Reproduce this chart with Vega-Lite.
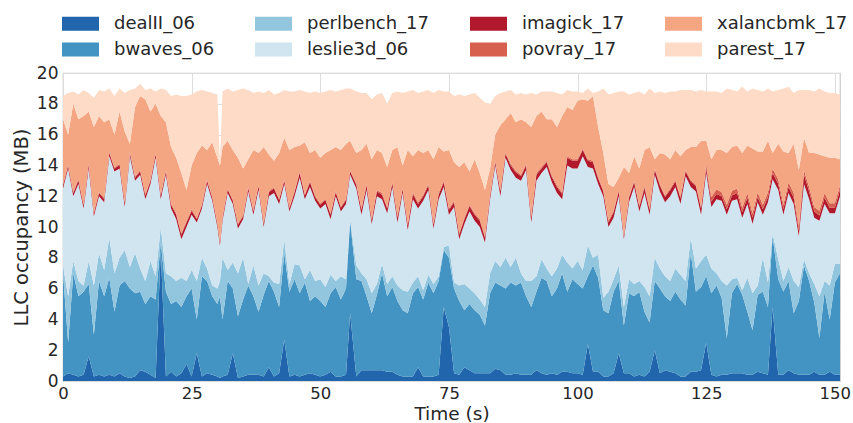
{
"$schema": "https://vega.github.io/schema/vega-lite/v6.json",
"width": 777, "height": 308,
"autosize": {"type": "none"},
"padding": {"left": 63, "top": 73, "right": 13, "bottom": 42},
"background": "white",
"config": {
 "font": "DejaVu Sans",
 "view": {"stroke": "#cccccc", "strokeWidth": 1.25},
 "axis": {"domain": false, "ticks": false, "grid": true, "gridColor": "#dddddd", "gridWidth": 1, "labelFontSize": 17, "labelColor": "#262626", "titleFontSize": 19.5, "titleFontWeight": "normal", "titleColor": "#262626"}
},
"data": {"values": [
{"t":0,"dealII_06":0.3,"bwaves_06":6.7,"perlbench_17":0.5,"leslie3d_06":5.0,"imagick_17":0.2,"povray_17":0.08,"xalancbmk_17":4.22,"parest_17":1.5},
{"t":1,"dealII_06":0.5,"bwaves_06":2.0,"perlbench_17":3.0,"leslie3d_06":8.3,"imagick_17":0.18,"povray_17":0.07,"xalancbmk_17":1.95,"parest_17":2.7},
{"t":2,"dealII_06":0.4,"bwaves_06":6.6,"perlbench_17":0.8,"leslie3d_06":4.2,"imagick_17":0.2,"povray_17":0.08,"xalancbmk_17":5.72,"parest_17":0.8},
{"t":3,"dealII_06":0.3,"bwaves_06":5.2,"perlbench_17":1.0,"leslie3d_06":6.3,"imagick_17":0.22,"povray_17":0.08,"xalancbmk_17":3.9,"parest_17":1.6},
{"t":4,"dealII_06":0.4,"bwaves_06":5.4,"perlbench_17":0.4,"leslie3d_06":5.0,"imagick_17":0.2,"povray_17":0.08,"xalancbmk_17":5.72,"parest_17":1.7},
{"t":5,"dealII_06":1.6,"bwaves_06":4.7,"perlbench_17":1.5,"leslie3d_06":6.0,"imagick_17":0.25,"povray_17":0.08,"xalancbmk_17":3.37,"parest_17":1.2},
{"t":6,"dealII_06":0.3,"bwaves_06":2.7,"perlbench_17":3.2,"leslie3d_06":4.5,"imagick_17":0.2,"povray_17":0.08,"xalancbmk_17":5.52,"parest_17":1.9},
{"t":7,"dealII_06":0.4,"bwaves_06":6.1,"perlbench_17":1.8,"leslie3d_06":3.7,"imagick_17":0.2,"povray_17":0.07,"xalancbmk_17":4.93,"parest_17":1.7},
{"t":8,"dealII_06":0.3,"bwaves_06":5.2,"perlbench_17":1.7,"leslie3d_06":4.4,"imagick_17":0.22,"povray_17":0.08,"xalancbmk_17":4.9,"parest_17":2.0},
{"t":9,"dealII_06":0.4,"bwaves_06":6.3,"perlbench_17":2.6,"leslie3d_06":5.3,"imagick_17":0.2,"povray_17":0.08,"xalancbmk_17":2.12,"parest_17":2.0},
{"t":10,"dealII_06":0.3,"bwaves_06":4.2,"perlbench_17":2.5,"leslie3d_06":6.6,"imagick_17":0.2,"povray_17":0.07,"xalancbmk_17":2.13,"parest_17":2.5},
{"t":11,"dealII_06":0.5,"bwaves_06":5.7,"perlbench_17":1.8,"leslie3d_06":5.8,"imagick_17":0.22,"povray_17":0.08,"xalancbmk_17":3.4,"parest_17":1.5},
{"t":12,"dealII_06":0.3,"bwaves_06":6.2,"perlbench_17":2.0,"leslie3d_06":2.8,"imagick_17":0.25,"povray_17":0.08,"xalancbmk_17":4.57,"parest_17":2.5},
{"t":13,"dealII_06":0.2,"bwaves_06":5.8,"perlbench_17":1.4,"leslie3d_06":7.2,"imagick_17":0.2,"povray_17":0.07,"xalancbmk_17":0.53,"parest_17":3.5},
{"t":14,"dealII_06":0.3,"bwaves_06":5.4,"perlbench_17":2.6,"leslie3d_06":4.7,"imagick_17":0.2,"povray_17":0.08,"xalancbmk_17":4.52,"parest_17":1.2},
{"t":15,"dealII_06":0.7,"bwaves_06":5.1,"perlbench_17":1.5,"leslie3d_06":6.1,"imagick_17":0.22,"povray_17":0.08,"xalancbmk_17":4.8,"parest_17":0.8},
{"t":16,"dealII_06":0.6,"bwaves_06":4.4,"perlbench_17":1.5,"leslie3d_06":5.3,"imagick_17":0.25,"povray_17":0.08,"xalancbmk_17":6.17,"parest_17":0.6},
{"t":17,"dealII_06":0.4,"bwaves_06":5.1,"perlbench_17":2.3,"leslie3d_06":5.0,"imagick_17":0.2,"povray_17":0.08,"xalancbmk_17":4.42,"parest_17":1.5},
{"t":18,"dealII_06":0.2,"bwaves_06":5.1,"perlbench_17":1.5,"leslie3d_06":7.7,"imagick_17":0.2,"povray_17":0.08,"xalancbmk_17":3.22,"parest_17":0.8},
{"t":19,"dealII_06":8.5,"bwaves_06":0.5,"perlbench_17":1.0,"leslie3d_06":1.8,"imagick_17":0.25,"povray_17":0.08,"xalancbmk_17":5.07,"parest_17":1.8},
{"t":20,"dealII_06":0.3,"bwaves_06":5.5,"perlbench_17":1.2,"leslie3d_06":6.4,"imagick_17":0.2,"povray_17":0.08,"xalancbmk_17":3.12,"parest_17":2.1},
{"t":21,"dealII_06":0.6,"bwaves_06":4.4,"perlbench_17":1.8,"leslie3d_06":4.4,"imagick_17":0.25,"povray_17":0.08,"xalancbmk_17":3.67,"parest_17":3.3},
{"t":22,"dealII_06":0.3,"bwaves_06":4.9,"perlbench_17":1.3,"leslie3d_06":4.0,"imagick_17":0.3,"povray_17":0.1,"xalancbmk_17":3.6,"parest_17":4.1},
{"t":23,"dealII_06":0.5,"bwaves_06":4.3,"perlbench_17":1.9,"leslie3d_06":2.5,"imagick_17":0.3,"povray_17":0.1,"xalancbmk_17":3.9,"parest_17":5.0},
{"t":24,"dealII_06":1.1,"bwaves_06":4.4,"perlbench_17":1.0,"leslie3d_06":3.5,"imagick_17":0.3,"povray_17":0.1,"xalancbmk_17":2.0,"parest_17":6.1},
{"t":25,"dealII_06":0.3,"bwaves_06":5.7,"perlbench_17":1.2,"leslie3d_06":3.6,"imagick_17":0.25,"povray_17":0.08,"xalancbmk_17":2.87,"parest_17":4.6},
{"t":26,"dealII_06":1.8,"bwaves_06":2.2,"perlbench_17":2.5,"leslie3d_06":3.8,"imagick_17":0.2,"povray_17":0.08,"xalancbmk_17":4.22,"parest_17":4.0},
{"t":27,"dealII_06":0.3,"bwaves_06":6.5,"perlbench_17":1.2,"leslie3d_06":3.2,"imagick_17":0.2,"povray_17":0.08,"xalancbmk_17":3.82,"parest_17":3.6},
{"t":28,"dealII_06":0.5,"bwaves_06":6.0,"perlbench_17":0.8,"leslie3d_06":5.5,"imagick_17":0.2,"povray_17":0.08,"xalancbmk_17":1.92,"parest_17":3.8},
{"t":29,"dealII_06":0.4,"bwaves_06":5.1,"perlbench_17":0.7,"leslie3d_06":5.5,"imagick_17":0.2,"povray_17":0.08,"xalancbmk_17":3.52,"parest_17":3.2},
{"t":30,"dealII_06":0.3,"bwaves_06":4.7,"perlbench_17":1.0,"leslie3d_06":4.0,"imagick_17":0.2,"povray_17":0.08,"xalancbmk_17":4.22,"parest_17":4.1},
{"t":30.5,"dealII_06":0.2,"bwaves_06":5.3,"perlbench_17":1.0,"leslie3d_06":2.3,"imagick_17":0.2,"povray_17":0.08,"xalancbmk_17":4.92,"parest_17":0.1},
{"t":31,"dealII_06":0.3,"bwaves_06":3.7,"perlbench_17":4.0,"leslie3d_06":2.4,"imagick_17":0.2,"povray_17":0.08,"xalancbmk_17":4.52,"parest_17":3.6},
{"t":32,"dealII_06":0.4,"bwaves_06":6.1,"perlbench_17":0.7,"leslie3d_06":5.0,"imagick_17":0.22,"povray_17":0.08,"xalancbmk_17":3.1,"parest_17":3.4},
{"t":33,"dealII_06":1.8,"bwaves_06":4.2,"perlbench_17":1.7,"leslie3d_06":3.8,"imagick_17":0.2,"povray_17":0.08,"xalancbmk_17":3.22,"parest_17":3.8},
{"t":34,"dealII_06":0.2,"bwaves_06":4.0,"perlbench_17":2.8,"leslie3d_06":2.9,"imagick_17":0.25,"povray_17":0.08,"xalancbmk_17":4.27,"parest_17":4.4},
{"t":35,"dealII_06":0.3,"bwaves_06":5.0,"perlbench_17":2.7,"leslie3d_06":2.5,"imagick_17":0.2,"povray_17":0.08,"xalancbmk_17":3.02,"parest_17":5.2},
{"t":36,"dealII_06":0.4,"bwaves_06":5.8,"perlbench_17":0.1,"leslie3d_06":6.0,"imagick_17":0.22,"povray_17":0.08,"xalancbmk_17":1.8,"parest_17":4.5},
{"t":37,"dealII_06":0.4,"bwaves_06":5.1,"perlbench_17":2.0,"leslie3d_06":3.3,"imagick_17":0.2,"povray_17":0.08,"xalancbmk_17":3.92,"parest_17":3.7},
{"t":38,"dealII_06":0.4,"bwaves_06":4.1,"perlbench_17":1.7,"leslie3d_06":6.2,"imagick_17":0.25,"povray_17":0.08,"xalancbmk_17":2.07,"parest_17":4.0},
{"t":39,"dealII_06":0.3,"bwaves_06":5.3,"perlbench_17":1.4,"leslie3d_06":3.0,"imagick_17":0.2,"povray_17":0.08,"xalancbmk_17":4.92,"parest_17":3.5},
{"t":40,"dealII_06":0.9,"bwaves_06":5.6,"perlbench_17":0.3,"leslie3d_06":5.2,"imagick_17":0.25,"povray_17":0.08,"xalancbmk_17":2.37,"parest_17":4.2},
{"t":41,"dealII_06":0.3,"bwaves_06":5.5,"perlbench_17":0.6,"leslie3d_06":5.8,"imagick_17":0.3,"povray_17":0.08,"xalancbmk_17":1.72,"parest_17":4.3},
{"t":42,"dealII_06":0.5,"bwaves_06":4.3,"perlbench_17":1.5,"leslie3d_06":5.2,"imagick_17":0.25,"povray_17":0.08,"xalancbmk_17":2.97,"parest_17":3.9},
{"t":43,"dealII_06":2.7,"bwaves_06":5.6,"perlbench_17":0.9,"leslie3d_06":3.6,"imagick_17":0.2,"povray_17":0.08,"xalancbmk_17":2.72,"parest_17":3.1},
{"t":44,"dealII_06":0.3,"bwaves_06":5.5,"perlbench_17":0.5,"leslie3d_06":4.7,"imagick_17":0.2,"povray_17":0.08,"xalancbmk_17":3.72,"parest_17":3.8},
{"t":45,"dealII_06":0.4,"bwaves_06":6.2,"perlbench_17":1.0,"leslie3d_06":4.4,"imagick_17":0.25,"povray_17":0.08,"xalancbmk_17":2.87,"parest_17":3.6},
{"t":46,"dealII_06":0.3,"bwaves_06":5.4,"perlbench_17":1.8,"leslie3d_06":5.7,"imagick_17":0.3,"povray_17":0.1,"xalancbmk_17":1.7,"parest_17":3.6},
{"t":47,"dealII_06":0.4,"bwaves_06":6.0,"perlbench_17":0.2,"leslie3d_06":5.2,"imagick_17":0.25,"povray_17":0.08,"xalancbmk_17":3.37,"parest_17":3.3},
{"t":48,"dealII_06":0.5,"bwaves_06":4.7,"perlbench_17":2.0,"leslie3d_06":5.4,"imagick_17":0.3,"povray_17":0.1,"xalancbmk_17":1.8,"parest_17":3.9},
{"t":49,"dealII_06":0.4,"bwaves_06":5.1,"perlbench_17":1.0,"leslie3d_06":5.2,"imagick_17":0.25,"povray_17":0.08,"xalancbmk_17":2.97,"parest_17":3.8},
{"t":50,"dealII_06":0.3,"bwaves_06":4.9,"perlbench_17":1.4,"leslie3d_06":4.6,"imagick_17":0.25,"povray_17":0.08,"xalancbmk_17":2.97,"parest_17":4.2},
{"t":51,"dealII_06":0.4,"bwaves_06":4.4,"perlbench_17":1.3,"leslie3d_06":5.4,"imagick_17":0.25,"povray_17":0.08,"xalancbmk_17":2.97,"parest_17":4.0},
{"t":52,"dealII_06":0.6,"bwaves_06":5.1,"perlbench_17":1.2,"leslie3d_06":3.6,"imagick_17":0.3,"povray_17":0.08,"xalancbmk_17":4.12,"parest_17":3.9},
{"t":53,"dealII_06":0.3,"bwaves_06":5.8,"perlbench_17":0.4,"leslie3d_06":5.5,"imagick_17":0.25,"povray_17":0.08,"xalancbmk_17":2.87,"parest_17":3.6},
{"t":54,"dealII_06":0.3,"bwaves_06":5.0,"perlbench_17":1.5,"leslie3d_06":4.2,"imagick_17":0.25,"povray_17":0.08,"xalancbmk_17":3.67,"parest_17":3.9},
{"t":55,"dealII_06":0.4,"bwaves_06":5.6,"perlbench_17":0.6,"leslie3d_06":4.9,"imagick_17":0.25,"povray_17":0.08,"xalancbmk_17":3.57,"parest_17":3.6},
{"t":55.8,"dealII_06":4.4,"bwaves_06":6.0,"perlbench_17":0.1,"leslie3d_06":2.9,"imagick_17":0.2,"povray_17":0.08,"xalancbmk_17":1.92,"parest_17":3.4},
{"t":57,"dealII_06":0.3,"bwaves_06":6.3,"perlbench_17":0.9,"leslie3d_06":5.0,"imagick_17":0.25,"povray_17":0.08,"xalancbmk_17":1.97,"parest_17":4.0},
{"t":58,"dealII_06":0.7,"bwaves_06":5.8,"perlbench_17":0.5,"leslie3d_06":3.8,"imagick_17":0.3,"povray_17":0.1,"xalancbmk_17":3.8,"parest_17":3.7},
{"t":59,"dealII_06":0.7,"bwaves_06":4.8,"perlbench_17":1.1,"leslie3d_06":5.8,"imagick_17":0.3,"povray_17":0.1,"xalancbmk_17":2.6,"parest_17":3.3},
{"t":60,"dealII_06":0.7,"bwaves_06":3.7,"perlbench_17":1.3,"leslie3d_06":4.5,"imagick_17":0.25,"povray_17":0.08,"xalancbmk_17":3.87,"parest_17":3.9},
{"t":61,"dealII_06":0.7,"bwaves_06":4.9,"perlbench_17":0.7,"leslie3d_06":5.7,"imagick_17":0.3,"povray_17":0.1,"xalancbmk_17":2.6,"parest_17":3.6},
{"t":62,"dealII_06":0.7,"bwaves_06":6.3,"perlbench_17":0.6,"leslie3d_06":4.2,"imagick_17":0.3,"povray_17":0.1,"xalancbmk_17":2.6,"parest_17":3.9},
{"t":63,"dealII_06":0.6,"bwaves_06":4.9,"perlbench_17":0.8,"leslie3d_06":4.6,"imagick_17":0.3,"povray_17":0.1,"xalancbmk_17":2.6,"parest_17":4.1},
{"t":64,"dealII_06":0.6,"bwaves_06":5.5,"perlbench_17":0.7,"leslie3d_06":5.8,"imagick_17":0.25,"povray_17":0.08,"xalancbmk_17":2.07,"parest_17":3.7},
{"t":65,"dealII_06":0.4,"bwaves_06":4.8,"perlbench_17":1.0,"leslie3d_06":4.1,"imagick_17":0.3,"povray_17":0.1,"xalancbmk_17":4.5,"parest_17":3.6},
{"t":66,"dealII_06":0.3,"bwaves_06":4.3,"perlbench_17":1.3,"leslie3d_06":6.3,"imagick_17":0.25,"povray_17":0.08,"xalancbmk_17":1.47,"parest_17":4.7},
{"t":67,"dealII_06":0.3,"bwaves_06":4.1,"perlbench_17":1.4,"leslie3d_06":4.0,"imagick_17":0.3,"povray_17":0.1,"xalancbmk_17":4.8,"parest_17":3.8},
{"t":68,"dealII_06":0.3,"bwaves_06":5.4,"perlbench_17":0.7,"leslie3d_06":5.4,"imagick_17":0.35,"povray_17":0.1,"xalancbmk_17":2.35,"parest_17":4.3},
{"t":69,"dealII_06":0.9,"bwaves_06":5.2,"perlbench_17":0.7,"leslie3d_06":4.4,"imagick_17":0.3,"povray_17":0.1,"xalancbmk_17":3.4,"parest_17":3.7},
{"t":70,"dealII_06":0.3,"bwaves_06":5.0,"perlbench_17":0.6,"leslie3d_06":5.8,"imagick_17":0.3,"povray_17":0.1,"xalancbmk_17":2.7,"parest_17":4.0},
{"t":71,"dealII_06":0.3,"bwaves_06":6.1,"perlbench_17":0.5,"leslie3d_06":5.5,"imagick_17":0.3,"povray_17":0.1,"xalancbmk_17":2.2,"parest_17":3.9},
{"t":72,"dealII_06":0.3,"bwaves_06":5.4,"perlbench_17":0.6,"leslie3d_06":3.6,"imagick_17":0.25,"povray_17":0.08,"xalancbmk_17":4.17,"parest_17":4.3},
{"t":73,"dealII_06":0.4,"bwaves_06":6.1,"perlbench_17":0.3,"leslie3d_06":5.0,"imagick_17":0.3,"povray_17":0.1,"xalancbmk_17":3.0,"parest_17":3.7},
{"t":74,"dealII_06":4.8,"bwaves_06":3.7,"perlbench_17":0.2,"leslie3d_06":3.9,"imagick_17":0.3,"povray_17":0.1,"xalancbmk_17":1.9,"parest_17":3.9},
{"t":75,"dealII_06":3.5,"bwaves_06":4.5,"perlbench_17":0.8,"leslie3d_06":2.0,"imagick_17":0.3,"povray_17":0.1,"xalancbmk_17":3.8,"parest_17":3.8},
{"t":76,"dealII_06":0.5,"bwaves_06":5.5,"perlbench_17":0.4,"leslie3d_06":4.9,"imagick_17":0.3,"povray_17":0.1,"xalancbmk_17":2.5,"parest_17":4.3},
{"t":77,"dealII_06":0.4,"bwaves_06":4.8,"perlbench_17":1.0,"leslie3d_06":3.0,"imagick_17":0.3,"povray_17":0.1,"xalancbmk_17":4.3,"parest_17":4.7},
{"t":78,"dealII_06":0.9,"bwaves_06":3.7,"perlbench_17":1.7,"leslie3d_06":3.9,"imagick_17":0.3,"povray_17":0.1,"xalancbmk_17":3.6,"parest_17":4.3},
{"t":79,"dealII_06":0.7,"bwaves_06":4.3,"perlbench_17":1.0,"leslie3d_06":5.0,"imagick_17":0.35,"povray_17":0.1,"xalancbmk_17":2.15,"parest_17":5.0},
{"t":80,"dealII_06":0.5,"bwaves_06":4.1,"perlbench_17":1.1,"leslie3d_06":4.7,"imagick_17":0.4,"povray_17":0.1,"xalancbmk_17":3.5,"parest_17":4.3},
{"t":81,"dealII_06":0.5,"bwaves_06":3.8,"perlbench_17":1.0,"leslie3d_06":4.7,"imagick_17":0.4,"povray_17":0.1,"xalancbmk_17":3.0,"parest_17":4.9},
{"t":82,"dealII_06":0.5,"bwaves_06":3.1,"perlbench_17":1.2,"leslie3d_06":4.2,"imagick_17":0.3,"povray_17":0.1,"xalancbmk_17":3.0,"parest_17":5.7},
{"t":83,"dealII_06":0.5,"bwaves_06":5.2,"perlbench_17":1.3,"leslie3d_06":4.8,"imagick_17":0.25,"povray_17":0.08,"xalancbmk_17":1.67,"parest_17":4.2},
{"t":84,"dealII_06":0.8,"bwaves_06":5.6,"perlbench_17":1.4,"leslie3d_06":6.2,"imagick_17":0.2,"povray_17":0.08,"xalancbmk_17":1.72,"parest_17":2.5},
{"t":85,"dealII_06":0.7,"bwaves_06":5.5,"perlbench_17":1.2,"leslie3d_06":4.6,"imagick_17":0.3,"povray_17":0.1,"xalancbmk_17":4.2,"parest_17":2.1},
{"t":86,"dealII_06":0.4,"bwaves_06":5.6,"perlbench_17":2.0,"leslie3d_06":6.5,"imagick_17":0.25,"povray_17":0.08,"xalancbmk_17":2.17,"parest_17":1.8},
{"t":87,"dealII_06":0.4,"bwaves_06":6.0,"perlbench_17":1.0,"leslie3d_06":6.3,"imagick_17":0.3,"povray_17":0.1,"xalancbmk_17":3.3,"parest_17":1.5},
{"t":88,"dealII_06":0.5,"bwaves_06":5.7,"perlbench_17":1.8,"leslie3d_06":5.2,"imagick_17":0.35,"povray_17":0.1,"xalancbmk_17":3.15,"parest_17":1.8},
{"t":89,"dealII_06":0.4,"bwaves_06":6.0,"perlbench_17":0.6,"leslie3d_06":6.0,"imagick_17":0.3,"povray_17":0.1,"xalancbmk_17":3.6,"parest_17":1.7},
{"t":90,"dealII_06":0.4,"bwaves_06":5.1,"perlbench_17":1.0,"leslie3d_06":7.2,"imagick_17":0.3,"povray_17":0.1,"xalancbmk_17":2.7,"parest_17":1.8},
{"t":91,"dealII_06":0.4,"bwaves_06":4.4,"perlbench_17":1.7,"leslie3d_06":3.8,"imagick_17":0.3,"povray_17":0.1,"xalancbmk_17":5.8,"parest_17":2.2},
{"t":92,"dealII_06":0.7,"bwaves_06":5.1,"perlbench_17":1.0,"leslie3d_06":6.2,"imagick_17":0.4,"povray_17":0.1,"xalancbmk_17":3.7,"parest_17":1.4},
{"t":93,"dealII_06":0.5,"bwaves_06":6.2,"perlbench_17":1.2,"leslie3d_06":5.6,"imagick_17":0.3,"povray_17":0.1,"xalancbmk_17":3.6,"parest_17":1.3},
{"t":94,"dealII_06":0.4,"bwaves_06":6.1,"perlbench_17":0.8,"leslie3d_06":6.6,"imagick_17":0.3,"povray_17":0.1,"xalancbmk_17":2.7,"parest_17":1.8},
{"t":95,"dealII_06":0.5,"bwaves_06":5.0,"perlbench_17":1.3,"leslie3d_06":6.1,"imagick_17":0.35,"povray_17":0.1,"xalancbmk_17":3.65,"parest_17":1.8},
{"t":96,"dealII_06":0.4,"bwaves_06":5.6,"perlbench_17":1.3,"leslie3d_06":4.9,"imagick_17":0.4,"povray_17":0.1,"xalancbmk_17":3.8,"parest_17":2.2},
{"t":97,"dealII_06":0.6,"bwaves_06":6.4,"perlbench_17":1.2,"leslie3d_06":3.6,"imagick_17":0.35,"povray_17":0.1,"xalancbmk_17":4.95,"parest_17":1.4},
{"t":98,"dealII_06":0.6,"bwaves_06":5.2,"perlbench_17":1.9,"leslie3d_06":6.3,"imagick_17":0.5,"povray_17":0.1,"xalancbmk_17":3.2,"parest_17":1.1},
{"t":99,"dealII_06":0.5,"bwaves_06":6.1,"perlbench_17":0.7,"leslie3d_06":6.5,"imagick_17":0.5,"povray_17":0.1,"xalancbmk_17":3.2,"parest_17":1.2},
{"t":100,"dealII_06":0.5,"bwaves_06":5.8,"perlbench_17":1.5,"leslie3d_06":6.0,"imagick_17":0.5,"povray_17":0.1,"xalancbmk_17":3.8,"parest_17":0.6},
{"t":101,"dealII_06":0.4,"bwaves_06":5.6,"perlbench_17":1.2,"leslie3d_06":7.4,"imagick_17":0.4,"povray_17":0.1,"xalancbmk_17":3.2,"parest_17":0.4},
{"t":102,"dealII_06":2.4,"bwaves_06":4.4,"perlbench_17":2.0,"leslie3d_06":5.1,"imagick_17":0.4,"povray_17":0.1,"xalancbmk_17":3.8,"parest_17":0.8},
{"t":103,"dealII_06":0.6,"bwaves_06":6.9,"perlbench_17":0.5,"leslie3d_06":5.8,"imagick_17":0.4,"povray_17":0.1,"xalancbmk_17":4.2,"parest_17":0.2},
{"t":104,"dealII_06":0.6,"bwaves_06":6.1,"perlbench_17":1.5,"leslie3d_06":4.6,"imagick_17":0.35,"povray_17":0.1,"xalancbmk_17":3.25,"parest_17":2.3},
{"t":105,"dealII_06":0.3,"bwaves_06":4.3,"perlbench_17":0.8,"leslie3d_06":6.6,"imagick_17":0.3,"povray_17":0.1,"xalancbmk_17":2.4,"parest_17":4.2},
{"t":106,"dealII_06":0.3,"bwaves_06":4.1,"perlbench_17":1.4,"leslie3d_06":4.2,"imagick_17":0.3,"povray_17":0.1,"xalancbmk_17":2.4,"parest_17":5.8},
{"t":107,"dealII_06":0.5,"bwaves_06":5.3,"perlbench_17":0.8,"leslie3d_06":4.0,"imagick_17":0.35,"povray_17":0.1,"xalancbmk_17":1.55,"parest_17":6.1},
{"t":108,"dealII_06":1.8,"bwaves_06":4.7,"perlbench_17":1.0,"leslie3d_06":4.5,"imagick_17":0.3,"povray_17":0.1,"xalancbmk_17":0.8,"parest_17":5.6},
{"t":109,"dealII_06":0.5,"bwaves_06":3.1,"perlbench_17":1.2,"leslie3d_06":4.4,"imagick_17":0.2,"povray_17":0.08,"xalancbmk_17":4.42,"parest_17":4.9},
{"t":110,"dealII_06":0.5,"bwaves_06":5.2,"perlbench_17":0.9,"leslie3d_06":5.0,"imagick_17":0.3,"povray_17":0.1,"xalancbmk_17":1.5,"parest_17":5.1},
{"t":111,"dealII_06":0.3,"bwaves_06":5.2,"perlbench_17":0.8,"leslie3d_06":6.3,"imagick_17":0.3,"povray_17":0.1,"xalancbmk_17":1.6,"parest_17":4.1},
{"t":112,"dealII_06":0.4,"bwaves_06":5.4,"perlbench_17":0.7,"leslie3d_06":4.5,"imagick_17":0.3,"povray_17":0.1,"xalancbmk_17":2.4,"parest_17":5.0},
{"t":113,"dealII_06":0.3,"bwaves_06":4.2,"perlbench_17":1.6,"leslie3d_06":6.1,"imagick_17":0.35,"povray_17":0.1,"xalancbmk_17":2.35,"parest_17":3.6},
{"t":114,"dealII_06":0.6,"bwaves_06":3.2,"perlbench_17":1.7,"leslie3d_06":5.3,"imagick_17":0.3,"povray_17":0.1,"xalancbmk_17":4.0,"parest_17":3.8},
{"t":115,"dealII_06":2.0,"bwaves_06":4.5,"perlbench_17":1.5,"leslie3d_06":5.4,"imagick_17":0.3,"povray_17":0.1,"xalancbmk_17":0.6,"parest_17":4.3},
{"t":116,"dealII_06":0.5,"bwaves_06":5.5,"perlbench_17":1.3,"leslie3d_06":5.0,"imagick_17":0.4,"povray_17":0.1,"xalancbmk_17":2.0,"parest_17":4.0},
{"t":117,"dealII_06":0.7,"bwaves_06":4.8,"perlbench_17":1.3,"leslie3d_06":4.8,"imagick_17":0.35,"povray_17":0.1,"xalancbmk_17":2.65,"parest_17":4.0},
{"t":118,"dealII_06":0.6,"bwaves_06":4.6,"perlbench_17":1.3,"leslie3d_06":5.5,"imagick_17":0.4,"povray_17":0.1,"xalancbmk_17":1.9,"parest_17":4.4},
{"t":119,"dealII_06":0.5,"bwaves_06":5.3,"perlbench_17":1.5,"leslie3d_06":5.3,"imagick_17":0.35,"povray_17":0.1,"xalancbmk_17":1.95,"parest_17":3.8},
{"t":120,"dealII_06":0.3,"bwaves_06":5.0,"perlbench_17":1.6,"leslie3d_06":4.6,"imagick_17":0.35,"povray_17":0.1,"xalancbmk_17":2.65,"parest_17":4.3},
{"t":121,"dealII_06":0.3,"bwaves_06":4.6,"perlbench_17":1.6,"leslie3d_06":6.8,"imagick_17":0.3,"povray_17":0.1,"xalancbmk_17":1.3,"parest_17":3.9},
{"t":122,"dealII_06":0.6,"bwaves_06":7.7,"perlbench_17":1.0,"leslie3d_06":3.3,"imagick_17":0.35,"povray_17":0.1,"xalancbmk_17":2.15,"parest_17":3.7},
{"t":123,"dealII_06":0.6,"bwaves_06":5.2,"perlbench_17":1.5,"leslie3d_06":5.0,"imagick_17":0.35,"povray_17":0.1,"xalancbmk_17":2.45,"parest_17":3.6},
{"t":124,"dealII_06":0.7,"bwaves_06":5.4,"perlbench_17":1.7,"leslie3d_06":3.0,"imagick_17":0.4,"povray_17":0.1,"xalancbmk_17":4.3,"parest_17":3.3},
{"t":125,"dealII_06":2.5,"bwaves_06":4.3,"perlbench_17":1.4,"leslie3d_06":5.3,"imagick_17":0.3,"povray_17":0.25,"xalancbmk_17":1.55,"parest_17":3.2},
{"t":126,"dealII_06":0.4,"bwaves_06":5.3,"perlbench_17":1.6,"leslie3d_06":4.0,"imagick_17":0.35,"povray_17":0.3,"xalancbmk_17":2.45,"parest_17":4.4},
{"t":127,"dealII_06":0.3,"bwaves_06":5.9,"perlbench_17":0.8,"leslie3d_06":4.8,"imagick_17":0.35,"povray_17":0.3,"xalancbmk_17":2.55,"parest_17":3.8},
{"t":128,"dealII_06":0.4,"bwaves_06":5.0,"perlbench_17":1.1,"leslie3d_06":5.2,"imagick_17":0.3,"povray_17":0.25,"xalancbmk_17":2.75,"parest_17":3.7},
{"t":129,"dealII_06":0.4,"bwaves_06":2.4,"perlbench_17":3.4,"leslie3d_06":4.6,"imagick_17":0.35,"povray_17":0.3,"xalancbmk_17":3.35,"parest_17":4.2},
{"t":130,"dealII_06":0.5,"bwaves_06":5.2,"perlbench_17":0.9,"leslie3d_06":5.1,"imagick_17":0.35,"povray_17":0.3,"xalancbmk_17":2.85,"parest_17":3.7},
{"t":131,"dealII_06":0.5,"bwaves_06":5.8,"perlbench_17":0.4,"leslie3d_06":5.1,"imagick_17":0.4,"povray_17":0.3,"xalancbmk_17":2.8,"parest_17":3.5},
{"t":132,"dealII_06":0.5,"bwaves_06":5.1,"perlbench_17":0.3,"leslie3d_06":4.7,"imagick_17":0.35,"povray_17":0.3,"xalancbmk_17":3.55,"parest_17":4.3},
{"t":133,"dealII_06":0.4,"bwaves_06":4.1,"perlbench_17":2.2,"leslie3d_06":4.8,"imagick_17":0.4,"povray_17":0.3,"xalancbmk_17":3.1,"parest_17":3.5},
{"t":134,"dealII_06":0.4,"bwaves_06":2.9,"perlbench_17":2.4,"leslie3d_06":4.5,"imagick_17":0.4,"povray_17":0.3,"xalancbmk_17":4.2,"parest_17":3.9},
{"t":135,"dealII_06":0.6,"bwaves_06":5.0,"perlbench_17":0.6,"leslie3d_06":5.4,"imagick_17":0.35,"povray_17":0.3,"xalancbmk_17":2.65,"parest_17":4.0},
{"t":136,"dealII_06":0.5,"bwaves_06":5.3,"perlbench_17":2.2,"leslie3d_06":2.8,"imagick_17":0.35,"povray_17":0.3,"xalancbmk_17":3.45,"parest_17":3.9},
{"t":137,"dealII_06":0.4,"bwaves_06":4.4,"perlbench_17":1.6,"leslie3d_06":5.2,"imagick_17":0.35,"povray_17":0.3,"xalancbmk_17":3.35,"parest_17":3.4},
{"t":137.9,"dealII_06":4.8,"bwaves_06":4.6,"perlbench_17":0.2,"leslie3d_06":3.5,"imagick_17":0.4,"povray_17":0.3,"xalancbmk_17":1.0,"parest_17":4.0},
{"t":139,"dealII_06":0.4,"bwaves_06":6.2,"perlbench_17":1.3,"leslie3d_06":4.5,"imagick_17":0.4,"povray_17":0.3,"xalancbmk_17":2.3,"parest_17":3.5},
{"t":140,"dealII_06":0.4,"bwaves_06":5.4,"perlbench_17":0.7,"leslie3d_06":4.3,"imagick_17":0.35,"povray_17":0.3,"xalancbmk_17":3.45,"parest_17":4.1},
{"t":141,"dealII_06":0.7,"bwaves_06":5.8,"perlbench_17":0.9,"leslie3d_06":4.8,"imagick_17":0.4,"povray_17":0.3,"xalancbmk_17":1.9,"parest_17":4.3},
{"t":142,"dealII_06":0.5,"bwaves_06":3.9,"perlbench_17":2.1,"leslie3d_06":5.0,"imagick_17":0.4,"povray_17":0.3,"xalancbmk_17":3.2,"parest_17":3.3},
{"t":143,"dealII_06":0.4,"bwaves_06":4.8,"perlbench_17":0.9,"leslie3d_06":3.3,"imagick_17":0.35,"povray_17":0.3,"xalancbmk_17":3.65,"parest_17":5.2},
{"t":144,"dealII_06":0.4,"bwaves_06":7.1,"perlbench_17":0.4,"leslie3d_06":4.9,"imagick_17":0.6,"povray_17":0.3,"xalancbmk_17":2.1,"parest_17":3.1},
{"t":145,"dealII_06":0.4,"bwaves_06":6.1,"perlbench_17":0.5,"leslie3d_06":4.8,"imagick_17":0.5,"povray_17":0.3,"xalancbmk_17":2.2,"parest_17":4.1},
{"t":146,"dealII_06":0.6,"bwaves_06":4.5,"perlbench_17":1.2,"leslie3d_06":4.3,"imagick_17":0.4,"povray_17":0.3,"xalancbmk_17":3.5,"parest_17":4.0},
{"t":147,"dealII_06":0.4,"bwaves_06":2.4,"perlbench_17":2.7,"leslie3d_06":4.9,"imagick_17":0.35,"povray_17":0.3,"xalancbmk_17":3.65,"parest_17":4.3},
{"t":148,"dealII_06":0.4,"bwaves_06":5.4,"perlbench_17":0.7,"leslie3d_06":5.0,"imagick_17":0.4,"povray_17":0.3,"xalancbmk_17":2.4,"parest_17":4.2},
{"t":149,"dealII_06":0.6,"bwaves_06":3.4,"perlbench_17":2.2,"leslie3d_06":4.7,"imagick_17":0.35,"povray_17":0.3,"xalancbmk_17":2.95,"parest_17":4.2},
{"t":150,"dealII_06":0.4,"bwaves_06":6.0,"perlbench_17":1.2,"leslie3d_06":3.3,"imagick_17":0.35,"povray_17":0.3,"xalancbmk_17":2.95,"parest_17":4.2},
{"t":151,"dealII_06":0.4,"bwaves_06":6.6,"perlbench_17":0.6,"leslie3d_06":4.4,"imagick_17":0.4,"povray_17":0.3,"xalancbmk_17":1.7,"parest_17":4.2}
]},
"transform": [
 {"fold": ["dealII_06","bwaves_06","perlbench_17","leslie3d_06","imagick_17","povray_17","xalancbmk_17","parest_17"], "as": ["series","value"]},
 {"lookup": "series", "from": {"data": {"values": [
   {"series":"dealII_06","rank":1},{"series":"bwaves_06","rank":2},{"series":"perlbench_17","rank":3},{"series":"leslie3d_06","rank":4},
   {"series":"imagick_17","rank":5},{"series":"povray_17","rank":6},{"series":"xalancbmk_17","rank":7},{"series":"parest_17","rank":8}]}, "key": "series", "fields": ["rank"]}}
],
"mark": {"type": "area", "interpolate": "linear"},
"encoding": {
 "x": {"field": "t", "type": "quantitative", "scale": {"domain": [0, 151], "nice": false, "zero": false},
   "axis": {"values": [0,25,50,75,100,125,150], "title": "Time (s)", "labelPadding": 4, "labelFontSize": 16.5, "titlePadding": 3, "titleFontSize": 18.5, "labelFlush": false}},
 "y": {"field": "value", "type": "quantitative", "stack": "zero", "scale": {"domain": [0, 20], "nice": false},
   "axis": {"values": [0,2,4,6,8,10,12,14,16,18,20], "title": "LLC occupancy (MB)", "labelPadding": 5, "titlePadding": 5}},
 "color": {"field": "series", "type": "nominal",
   "scale": {"domain": ["dealII_06","perlbench_17","imagick_17","xalancbmk_17","bwaves_06","leslie3d_06","povray_17","parest_17"],
             "range": ["#2166ac","#92c5de","#b2182b","#f4a582","#4393c3","#d1e5f0","#d6604d","#fddbc7"]},
   "legend": {"title": null, "orient": "none", "legendX": 8, "legendY": -59, "direction": "horizontal", "columns": 4,
     "symbolType": "M-2,-0.76H2V0.76H-2Z", "symbolSize": 342, "symbolStrokeWidth": 0, "symbolOpacity": 1,
     "labelFontSize": 18, "labelOffset": 24, "labelLimit": 400, "labelColor": "#262626", "columnPadding": 40, "rowPadding": 7, "padding": 0}},
 "order": {"field": "rank", "type": "quantitative", "sort": "ascending"}
}
}
